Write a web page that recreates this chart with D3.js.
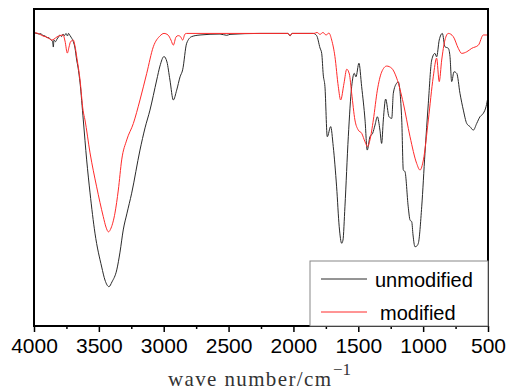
<!DOCTYPE html>
<html>
<head>
<meta charset="utf-8">
<script src="https://cdn.jsdelivr.net/npm/d3@7"></script>
<style>
  body { margin: 0; background: #fff; }
  svg { display: block; }
</style>
</head>
<body>
<div id="chart"></div>
<script>
// wavenumber (cm-1) and transmittance (%)
const unmodWave = [4000, 3977, 3961, 3946, 3931, 3915, 3900, 3884, 3869, 3857, 3851, 3846, 3834, 3823, 3811, 3800, 3788, 3776, 3765, 3753, 3742, 3734, 3722, 3711, 3697, 3684, 3671, 3661, 3645, 3620, 3594, 3568, 3530, 3478, 3453, 3422, 3399, 3362, 3337, 3312, 3283, 3247, 3183, 3144, 3106, 3054, 3029, 2998, 2975, 2952, 2926, 2900, 2874, 2854, 2823, 2784, 2720, 2566, 2514, 2489, 2258, 2042, 2026, 2011, 1847, 1821, 1795, 1782, 1770, 1757, 1739, 1713, 1693, 1667, 1647, 1628, 1618, 1603, 1577, 1551, 1531, 1518, 1495, 1474, 1448, 1431, 1410, 1389, 1371, 1353, 1333, 1320, 1307, 1289, 1263, 1242, 1230, 1204, 1192, 1165, 1153, 1140, 1115, 1101, 1088, 1078, 1063, 1050, 1037, 1011, 986, 960, 934, 909, 896, 876, 852, 832, 806, 793, 780, 762, 741, 716, 690, 664, 639, 613, 587, 562, 536, 515, 500];
const unmodT = [92.5, 92.3, 92.1, 92.2, 91.6, 91.5, 91.0, 90.9, 90.2, 89.9, 88.0, 90.2, 89.7, 90.5, 91.2, 91.8, 91.3, 92.1, 91.6, 92.3, 91.5, 92.3, 91.6, 90.9, 89.7, 87.7, 83.9, 81.7, 76.7, 65.0, 52.4, 42.0, 29.3, 18.6, 14.5, 12.4, 13.9, 17.7, 23.3, 30.3, 35.6, 41.9, 55.5, 62.5, 68.1, 77.6, 82.0, 85.0, 83.3, 77.6, 71.3, 74.4, 78.6, 80.8, 89.2, 91.3, 91.8, 92.1, 91.7, 92.0, 92.3, 92.3, 91.5, 92.3, 92.3, 91.6, 87.7, 86.0, 79.2, 75.5, 59.7, 62.9, 56.6, 43.9, 31.3, 26.1, 27.1, 37.6, 59.7, 75.5, 79.7, 78.6, 82.9, 75.5, 65.0, 55.5, 59.7, 60.8, 63.4, 66.0, 61.8, 57.6, 65.0, 71.6, 66.0, 65.5, 73.4, 76.6, 77.0, 65.0, 49.2, 48.7, 37.6, 33.4, 32.9, 28.7, 25.0, 25.2, 26.1, 37.6, 54.5, 70.3, 83.9, 86.0, 84.9, 90.2, 92.3, 88.1, 87.6, 85.0, 77.1, 80.2, 79.7, 73.4, 68.1, 63.9, 62.9, 61.8, 63.9, 66.0, 67.1, 69.2, 72.3];

const modWave = [4000, 3977, 3954, 3931, 3907, 3884, 3861, 3846, 3823, 3800, 3776, 3761, 3743, 3730, 3719, 3697, 3684, 3669, 3645, 3622, 3607, 3568, 3517, 3466, 3445, 3426, 3406, 3376, 3350, 3324, 3285, 3234, 3183, 3131, 3080, 3029, 2998, 2967, 2944, 2926, 2905, 2888, 2871, 2854, 2836, 2823, 2489, 2042, 2026, 2011, 1841, 1818, 1795, 1772, 1749, 1726, 1705, 1680, 1654, 1636, 1610, 1589, 1569, 1551, 1526, 1500, 1474, 1448, 1428, 1410, 1384, 1353, 1320, 1281, 1242, 1204, 1153, 1101, 1050, 1024, 998, 960, 922, 896, 876, 857, 832, 806, 768, 729, 703, 664, 625, 574, 536, 500];
const modT = [92.5, 92.4, 92.0, 91.5, 91.2, 90.7, 90.2, 90.5, 91.2, 91.6, 91.8, 89.9, 86.1, 88.0, 89.6, 90.2, 88.3, 84.5, 77.6, 68.1, 65.0, 54.6, 43.9, 34.5, 31.2, 29.7, 30.9, 35.6, 42.9, 52.4, 58.7, 63.9, 71.3, 79.7, 88.1, 91.5, 92.3, 91.8, 90.2, 88.6, 91.2, 91.6, 91.3, 90.2, 92.1, 92.3, 92.3, 92.3, 91.6, 92.3, 92.3, 92.6, 92.0, 92.6, 91.8, 92.4, 90.2, 85.0, 75.5, 71.3, 76.6, 81.0, 79.5, 73.4, 65.0, 61.8, 60.8, 58.1, 56.6, 58.7, 65.0, 74.4, 80.1, 82.0, 81.3, 78.2, 70.3, 59.7, 51.3, 49.2, 52.4, 65.0, 78.6, 84.5, 77.1, 83.9, 90.2, 92.3, 91.3, 87.6, 86.0, 86.5, 87.6, 88.6, 91.8, 91.8];

const xTicks = [4000, 3500, 3000, 2500, 2000, 1500, 1000, 500];
const seriesNames = ['unmodified', 'modified'];
const seriesColors = ['#2a2a2a', '#ff2a2a'];

const W = 506, H = 391;
const margin = { top: 9, right: 18, bottom: 65, left: 34 };
const iw = W - margin.left - margin.right;
const ih = H - margin.top - margin.bottom;

const svg = d3.select('#chart').append('svg')
  .attr('width', W)
  .attr('height', H);

const x = d3.scaleLinear().domain([4000, 500]).range([0, iw]);
const y = d3.scaleLinear().domain([0, 100]).range([ih, 0]);

const g = svg.append('g').attr('transform', `translate(${margin.left},${margin.top})`);

const series = [
  d3.zip(unmodWave, unmodT),
  d3.zip(modWave, modT)
];

const line = d3.line()
  .x(d => x(d[0]))
  .y(d => y(d[1]))
  .curve(d3.curveMonotoneX);

g.selectAll('path.spec')
  .data(series)
  .enter()
  .append('path')
  .attr('class', 'spec')
  .attr('d', line)
  .attr('fill', 'none')
  .attr('stroke', (d, i) => seriesColors[i])
  .attr('stroke-width', 1);

// bottom axis: labelled major ticks plus unlabelled minor ticks
const minor = d3.range(3750, 500, -500);
g.append('g')
  .attr('transform', `translate(0,${ih})`)
  .call(d3.axisBottom(x).tickValues(minor).tickSize(3).tickFormat(''))
  .call(a => a.select('.domain').remove())
  .call(a => a.selectAll('line').attr('stroke', '#000').attr('stroke-width', 1.5));

g.append('g')
  .attr('transform', `translate(0,${ih})`)
  .call(d3.axisBottom(x).tickValues(xTicks).tickSize(6).tickPadding(6).tickFormat(d3.format('d')))
  .call(a => a.select('.domain').remove())
  .call(a => a.selectAll('line').attr('stroke', '#000').attr('stroke-width', 1.5))
  .call(a => a.selectAll('text')
    .attr('fill', '#000')
    .style('font-family', '"Liberation Sans", Arial, sans-serif')
    .style('font-size', '21px'));

// frame
g.append('rect')
  .attr('x', 0).attr('y', 0)
  .attr('width', iw).attr('height', ih)
  .attr('fill', 'none')
  .attr('stroke', '#000')
  .attr('stroke-width', 2);

// legend
const lg = g.append('g').attr('transform', `translate(${iw - 178},${ih - 65})`);
lg.append('rect')
  .attr('width', 178).attr('height', 65)
  .attr('fill', '#fff')
  .attr('stroke', '#888')
  .attr('stroke-width', 1);

seriesNames.forEach((name, i) => {
  const yy = 18 + i * 33;
  lg.append('line')
    .attr('x1', 11).attr('x2', 57)
    .attr('y1', yy).attr('y2', yy)
    .attr('stroke', seriesColors[i])
    .attr('stroke-width', 1);
  lg.append('text')
    .attr('x', i === 0 ? 65 : 70)
    .attr('y', yy + 8)
    .style('font-family', '"Liberation Sans", Arial, sans-serif')
    .style('font-size', '20px')
    .attr('fill', '#000')
    .text(name);
});

// axis title with superscript
svg.append('text')
  .attr('x', 168)
  .attr('y', 386)
  .attr('textLength', 163)
  .attr('lengthAdjust', 'spacing')
  .style('font-family', '"Liberation Serif", "DejaVu Serif", serif')
  .style('font-size', '21px')
  .attr('fill', '#333')
  .text('wave number/cm');

svg.append('text')
  .attr('x', 333)
  .attr('y', 375)
  .style('font-family', '"Liberation Serif", "DejaVu Serif", serif')
  .style('font-size', '17px')
  .attr('fill', '#333')
  .text('\u22121');
</script>
</body>
</html>
